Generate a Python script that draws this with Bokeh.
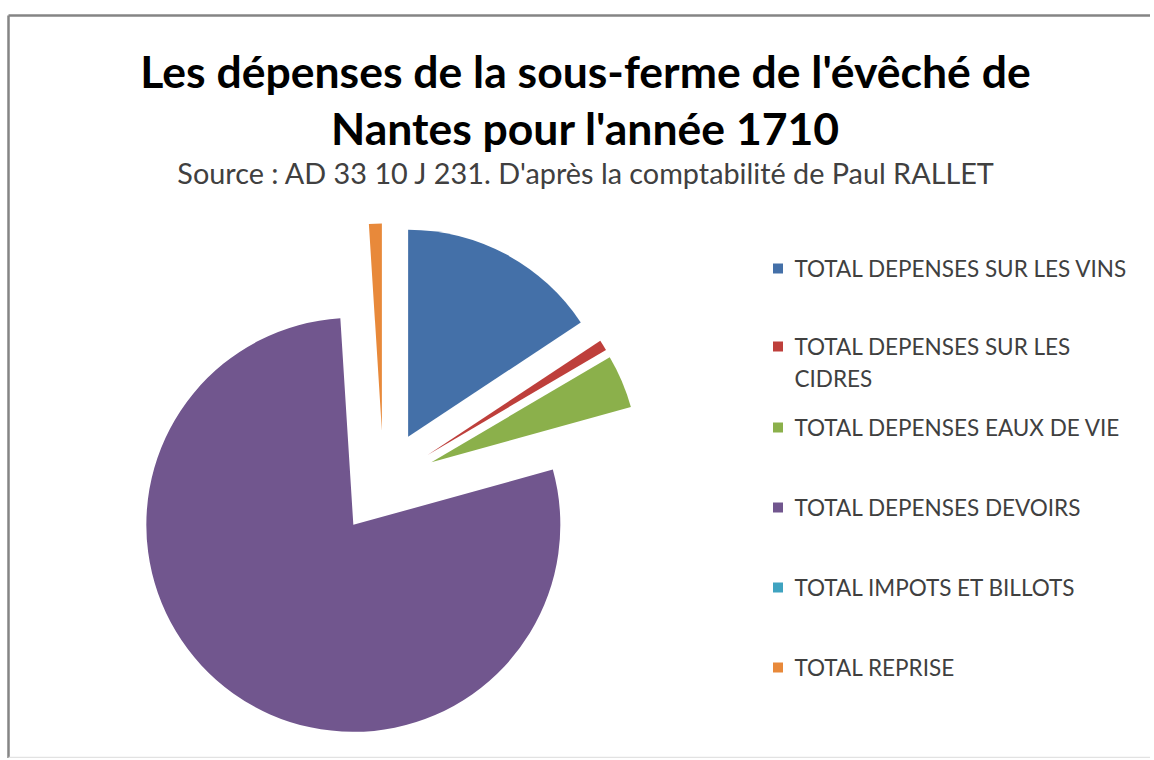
import math
from bokeh.plotting import figure
from bokeh.models import Range1d, ColumnDataSource
from bokeh.core.properties import value
from bokeh.embed import file_html
from bokeh.resources import INLINE

# ---- data ----
categories = [
    "TOTAL DEPENSES SUR LES VINS",
    "TOTAL DEPENSES SUR LES CIDRES",
    "TOTAL DEPENSES EAUX DE VIE",
    "TOTAL DEPENSES DEVOIRS",
    "TOTAL IMPOTS ET BILLOTS",
    "TOTAL REPRISE",
]
legend_lines = [
    ["TOTAL DEPENSES SUR LES VINS"],
    ["TOTAL DEPENSES SUR LES", "CIDRES"],
    ["TOTAL DEPENSES EAUX DE VIE"],
    ["TOTAL DEPENSES DEVOIRS"],
    ["TOTAL IMPOTS ET BILLOTS"],
    ["TOTAL REPRISE"],
]
shares = [15.7, 0.83, 4.17, 78.3, 0.0, 1.0]  # % of total expenses
colors = ["#4470A8", "#BE3F3B", "#8BB04B", "#71568E", "#3FA3C0", "#E8893A"]

title_lines = ["Les dépenses de la sous-ferme de l'évêché de", "Nantes pour l'année 1710"]
subtitle = "Source : AD 33 10 J 231. D'après la comptabilité de Paul RALLET"

W, H = 1150, 758


def sy(Y):
    # screen-style vertical position -> data y
    return H - Y


p = figure(width=W, height=H, output_backend="svg", toolbar_location=None,
           x_range=Range1d(0, W), y_range=Range1d(0, H), min_border=0)
p.axis.visible = False
p.grid.visible = False
p.outline_line_color = None
p.border_fill_color = "white"
p.background_fill_color = "white"

# frame border (chart area outline, decorative)
p.segment(x0=[8], y0=[sy(15)], x1=[W + 10], y1=[sy(15)], line_color="#858585", line_width=2.5)
p.segment(x0=[8], y0=[sy(15)], x1=[8], y1=[-5], line_color="#858585", line_width=2.5)
p.segment(x0=[8], y0=[sy(757)], x1=[W + 10], y1=[sy(757)], line_color="#e2e2e2", line_width=1.5)

# ---- exploded pie ----
cx, cy, r, explode = 383, sy(482), 207, 52
total = sum(shares)
xs, ys, starts, ends, cols = [], [], [], [], []
acc = 0.0
for s, c in zip(shares, colors):
    a0 = acc / total * 2 * math.pi
    acc += s
    a1 = acc / total * 2 * math.pi
    if s <= 0:
        continue
    mid = (a0 + a1) / 2
    xs.append(cx + explode * math.sin(mid))
    ys.append(cy + explode * math.cos(mid))
    starts.append(math.pi / 2 - a0)
    ends.append(math.pi / 2 - a1)
    cols.append(c)
src = ColumnDataSource(dict(x=xs, y=ys, start=starts, end=ends, color=cols))
p.wedge(x="x", y="y", radius=r, start_angle="start", end_angle="end",
        direction="clock", fill_color="color", line_color=None, source=src)

# ---- titles ----
p.text(x=[585, 585], y=[sy(70), sy(127)], text=title_lines, text_align="center",
       text_baseline="middle", text_font=value("Lato"), text_font_style="bold",
       text_font_size="44.5px", text_color="#000000")
p.text(x=[586], y=[sy(172)], text=[subtitle], text_align="center",
       text_baseline="middle", text_font=value("Lato"),
       text_font_size="28.8px", text_color="#404040")

# ---- legend ----
leg_Y = [268, 346, 427, 507, 587, 667]
for LY, lines, c in zip(leg_Y, legend_lines, colors):
    p.rect(x=[777.5], y=[sy(LY)], width=10, height=10, fill_color=c, line_color=None)
    p.text(x=[794] * len(lines), y=[sy(LY + 32 * i) for i in range(len(lines))], text=lines,
           text_align="left", text_baseline="middle", text_font=value("Lato"),
           text_font_size="22.5px", text_color="#404040")

open("out.html", "w").write(file_html(p, INLINE))
